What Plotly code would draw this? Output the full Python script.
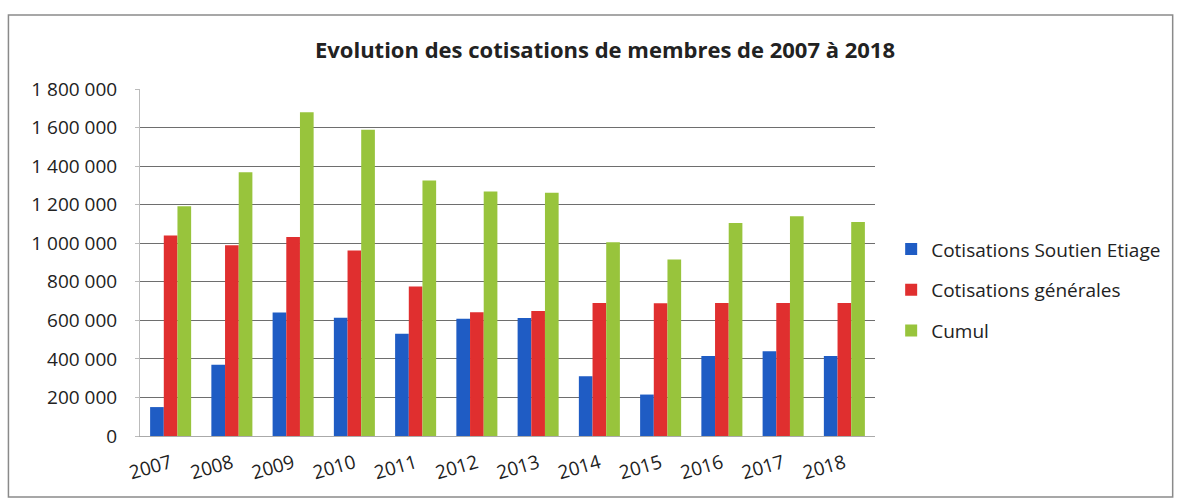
import plotly.graph_objects as go

years = ["2007", "2008", "2009", "2010", "2011", "2012", "2013", "2014", "2015", "2016", "2017", "2018"]
soutien_etiage = [150000, 370000, 640000, 613000, 530000, 608000, 612000, 310000, 215000, 415000, 440000, 415000]
generales = [1040000, 990000, 1032000, 962000, 775000, 642000, 648000, 690000, 688000, 690000, 690000, 690000]
cumul = [1192000, 1368000, 1680000, 1588000, 1325000, 1268000, 1262000, 1005000, 915000, 1105000, 1140000, 1110000]

series_names = ["Cotisations Soutien Etiage", "Cotisations générales", "Cumul"]
colors = ["#1f5cc4", "#e02f2f", "#98c43c"]
y_ticks = [0, 200000, 400000, 600000, 800000, 1000000, 1200000, 1400000, 1600000, 1800000]

FONT = "Open Sans"

fig = go.Figure()
for i, (name, vals) in enumerate(zip(series_names, [soutien_etiage, generales, cumul])):
    fig.add_trace(go.Bar(
        x=years, y=vals, name=name, legendgroup=f"g{i}",
        marker=dict(color=colors[i], line=dict(width=0)),
    ))

fig.update_layout(
    width=1178, height=504,
    paper_bgcolor="white", plot_bgcolor="white",
    margin=dict(l=140, r=300, t=89, b=68),
    barmode="group", bargap=0.33, bargroupgap=0.0,
    separators=", ",
    font=dict(family=FONT, color="#222222"),
    title=dict(text="<b>Evolution des cotisations de membres de 2007 à 2018</b>",
               x=605 / 1178, xanchor="center", y=1 - 50 / 504, yanchor="middle",
               font=dict(family=FONT, size=22, color="#222222")),
    legend=dict(x=1.022, xanchor="left", y=0.42, yanchor="middle",
                font=dict(family=FONT, size=19, color="#222222"),
                tracegroupgap=13, itemwidth=30, bgcolor="rgba(0,0,0,0)"),
    showlegend=True,
    shapes=[dict(type="rect", xref="paper", yref="paper",
                 x0=-0.179, x1=1.405, y0=-0.176, y1=1.213,
                 line=dict(color="#8a8a8a", width=1.5), fillcolor="rgba(0,0,0,0)", layer="below")],
)

fig.update_yaxes(range=[0, 1800000], tickvals=y_ticks, tickformat=",d",
                 showgrid=True, gridcolor="#6e6e6e", gridwidth=1,
                 showline=True, linecolor="#bbbbbb", zeroline=False,
                 ticks="outside", ticklen=4, tickcolor="#bbbbbb",
                 ticklabelstandoff=14,
                 tickfont=dict(family=FONT, size=19, color="#222222"))
fig.update_xaxes(tickangle=-16, showline=True, linecolor="#aaaaaa",
                 ticks="", ticklabelstandoff=8,
                 tickfont=dict(family=FONT, size=19, color="#222222"))

fig.write_html("out.html")
